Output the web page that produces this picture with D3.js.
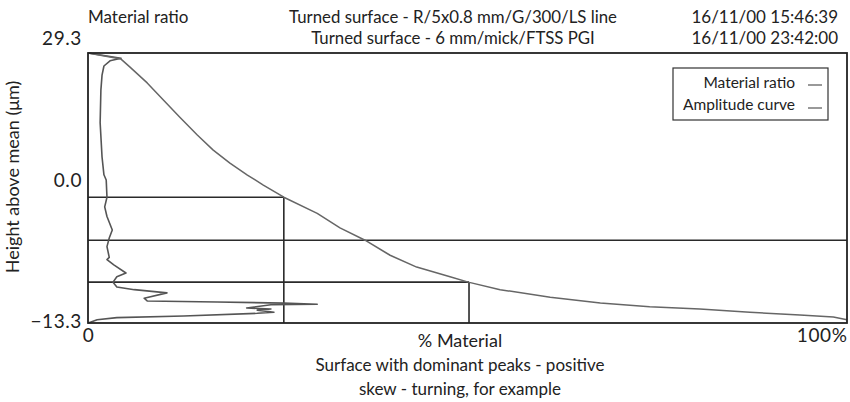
<!DOCTYPE html>
<html><head><meta charset="utf-8">
<script src="https://cdn.jsdelivr.net/npm/d3@7"></script>
<style>
html,body{margin:0;padding:0;background:#fff;}
text{font-family:Lato,"Open Sans",sans-serif;fill:#222;}
</style></head>
<body><svg id="c" width="850" height="402"></svg>
<script>
// ---- data ----
const headerLeft = "Material ratio";
const headerMid = ["Turned surface - R/5x0.8 mm/G/300/LS line", "Turned surface - 6 mm/mick/FTSS PGI"];
const headerRight = ["16/11/00 15:46:39", "16/11/00 23:42:00"];
const yTicks = [29.3, 0.0, -13.3];
const xTicks = [0, 100];
const seriesNames = ["Material ratio", "Amplitude curve"];
// material ratio: [% material, height µm]
const materialPct = [0, 4.35, 5.5, 7.8, 9.9, 12.1, 14.4, 16.5, 18.7, 21.0, 23.1, 25.8, 30.2, 33.2, 36.5, 39.8, 43.3, 47.7, 50.1, 54.3, 60.9, 67.5, 74.0, 80.6, 87.2, 93.8, 98.2, 100];
const materialH = [29.3, 27.9, 26.1, 22.4, 18.5, 14.5, 10.4, 6.9, 3.9, 1.15, -0.47, -1.6, -3.1, -4.45, -5.6, -7.0, -8.1, -9.0, -9.5, -10.2, -10.9, -11.45, -11.8, -12.0, -12.3, -12.55, -12.75, -13.0];
// amplitude curve
const amplitudePct = [0, 4.35, 2.9, 2.1, 1.85, 1.7, 1.6, 1.85, 2.1, 2.4, 2.5, 2.2, 2.5, 3.2, 2.8, 2.5, 2.8, 2.5, 3.4, 5.0, 3.8, 3.3, 3.8, 6.1, 10.4, 7.4, 7.8, 17.0, 25.8, 30.2, 24.1, 20.9, 24.1, 22.3, 24.5, 22.3, 12.6, 3.8, 1.2, 0.4, 0];
const amplitudeH = [29.3, 28.1, 27.5, 26.3, 24.2, 20.8, 13.2, 5.3, 1.2, 0, -1.6, -2.5, -3.4, -4.65, -5.4, -6.2, -7.2, -7.4, -7.9, -8.65, -9.0, -9.5, -9.95, -10.2, -10.5, -11.0, -11.25, -11.35, -11.45, -11.55, -11.6, -11.9, -12.0, -12.1, -12.3, -12.4, -12.65, -12.8, -13.0, -13.2, -13.3];
// reference levels
const refHeights = [-1.6, -5.6, -9.5];
const refPct = [25.8, 50.2];
const captionLines = ["Surface with dominant peaks - positive", "skew - turning, for example"];

// ---- chart ----
const FS = 17;
const svg = d3.select("#c");
const L = 88, R = 847, T = 53, B = 323;
const x = d3.scaleLinear().domain([0, 100]).range([L, R]);
const y = d3.scaleLinear().domain([-13.3, 0, 29.3]).range([B, 180, T]);

// header
svg.append("text").attr("x", 88).attr("y", 23).attr("font-size", FS).text(headerLeft);
headerMid.forEach((t, i) => svg.append("text").attr("x", 453).attr("y", 23 + i * 21).attr("text-anchor", "middle").attr("font-size", 16.8).text(t));
headerRight.forEach((t, i) => svg.append("text").attr("x", 838).attr("y", 23 + i * 21).attr("text-anchor", "end").attr("font-size", FS).text(t));

// reference lines
const g = svg.append("g");
g.append("line").attr("x1", x(0)).attr("x2", x(refPct[0])).attr("y1", y(refHeights[0])).attr("y2", y(refHeights[0]));
g.append("line").attr("x1", x(0)).attr("x2", x(100)).attr("y1", y(refHeights[1])).attr("y2", y(refHeights[1]));
g.append("line").attr("x1", x(0)).attr("x2", x(refPct[1])).attr("y1", y(refHeights[2])).attr("y2", y(refHeights[2]));
g.append("line").attr("x1", x(refPct[0])).attr("x2", x(refPct[0])).attr("y1", y(refHeights[0])).attr("y2", B);
g.append("line").attr("x1", x(refPct[1])).attr("x2", x(refPct[1])).attr("y1", y(refHeights[2])).attr("y2", B);
g.selectAll("line").attr("stroke", "#2a2a2a").attr("stroke-width", 1.6);

// curves
const line = d3.line().x(d => x(d[0])).y(d => y(d[1]));
const mat = materialPct.map((p, i) => [p, materialH[i]]);
const amp = amplitudePct.map((p, i) => [p, amplitudeH[i]]);
svg.append("path").attr("d", line(amp)).attr("fill", "none").attr("stroke", "#555").attr("stroke-width", 1.6).attr("stroke-linejoin", "round");
svg.append("path").attr("d", line(mat)).attr("fill", "none").attr("stroke", "#666").attr("stroke-width", 1.5).attr("stroke-linejoin", "round");

// frame
svg.append("rect").attr("x", L).attr("y", T).attr("width", R - L).attr("height", B - T).attr("fill", "none").attr("stroke", "#222").attr("stroke-width", 1.8);

// y axis
const ya = svg.append("g").attr("transform", `translate(${L},0)`)
  .call(d3.axisLeft(y).tickValues(yTicks).tickSize(0).tickPadding(6).tickFormat(d => d3.format(".1f")(d)));
ya.select(".domain").remove();
ya.selectAll("text").attr("font-size", 19).attr("fill", "#222").style("font-family", "Lato").style("letter-spacing", "0.6px");
ya.selectAll(".tick").filter(d => d === 29.3).select("text").attr("dy", "-0.45em");
ya.selectAll(".tick").filter(d => d === -13.3).select("text").attr("dy", "0.25em");

svg.append("text").attr("transform", "translate(19,177) rotate(-90)").attr("text-anchor", "middle").attr("font-size", 18).text("Height above mean (\u03bcm)");

// x axis
const xa = svg.append("g").attr("transform", `translate(0,${B})`)
  .call(d3.axisBottom(x).tickValues(xTicks).tickSize(0).tickPadding(6).tickFormat(d => d === 100 ? "100%" : "0"));
xa.select(".domain").remove();
xa.selectAll("text").attr("font-size", 19).attr("fill", "#222").style("font-family", "Lato").style("letter-spacing", "0.6px");
xa.selectAll(".tick").filter(d => d === 100).select("text").attr("text-anchor", "end");
svg.append("text").attr("x", 460).attr("y", 347).attr("text-anchor", "middle").attr("font-size", 18).text("% Material");
captionLines.forEach((t, i) => svg.append("text").attr("x", 460).attr("y", 371 + i * 24).attr("text-anchor", "middle").attr("font-size", FS).text(t));

// legend
const lg = svg.append("g");
lg.append("rect").attr("x", 673).attr("y", 68).attr("width", 155).attr("height", 52).attr("fill", "#fff").attr("stroke", "#333").attr("stroke-width", 1.2);
seriesNames.forEach((n, i) => {
  lg.append("text").attr("x", 795).attr("y", 88 + i * 22).attr("text-anchor", "end").attr("font-size", 15.5).text(n);
  lg.append("line").attr("x1", 808).attr("x2", 822).attr("y1", 85 + i * 23).attr("y2", 85 + i * 23).attr("stroke", "#777").attr("stroke-width", 1.5);
});
</script></body></html>
